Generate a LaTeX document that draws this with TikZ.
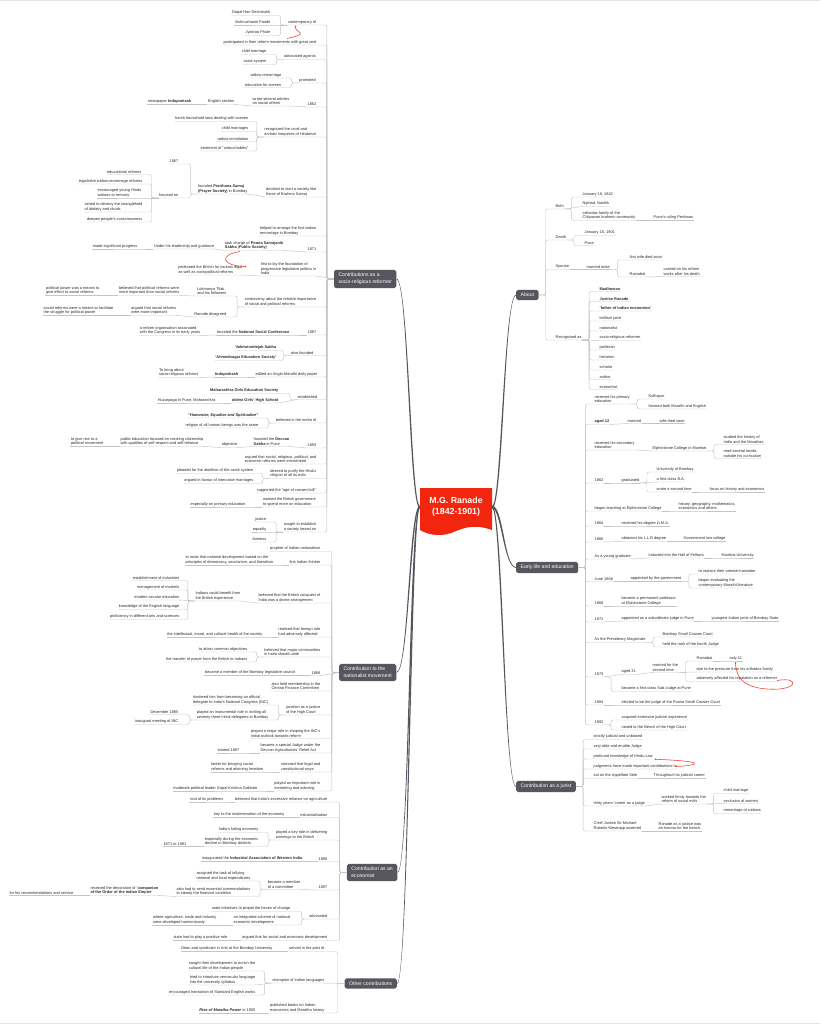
\documentclass[tikz,border=0pt]{standalone}
\usepackage{fontspec}
\setmainfont{Liberation Sans}
\usetikzlibrary{calc}
\definecolor{txtc}{HTML}{2B2B2B}
\definecolor{lnc}{HTML}{C4C4C4}
\definecolor{boxc}{HTML}{56565E}
\definecolor{redc}{HTML}{F2260F}
\definecolor{relc}{HTML}{EF3B2C}
\newcommand\fsm{\fontsize{3.9}{4.5}\selectfont}
\newcommand\fbx{\fontsize{5.1}{7}\selectfont}
% left side connectors
\newcommand\mlc[2]{\draw[ln] (#2.south west) -- (#2.south east) -| ($(#1.south west)+(-7,0)$) -- (#1.south west);}
\newcommand\mls[2]{\draw[ln] (#2.south west) -- (#2.south east) -- (#1.south west);}
\newcommand\mlb[2]{\draw[ln] (#2.south west) -- (#2.south east) -| ($(#1.west)+(-7,0)$) -- (#1.west);}
\newcommand\mlbs[2]{\draw[ln] (#2.south west) -- (#2.south east) -- (#1.west);}
% right side connectors
\newcommand\mrc[2]{\draw[ln] (#2.south east) -- (#2.south west) -| ($(#1.south east)+(7,0)$) -- (#1.south east);}
\newcommand\mrs[2]{\draw[ln] (#2.south east) -- (#2.south west) -- (#1.south east);}
\newcommand\mrb[2]{\draw[ln] (#2.south east) -- (#2.south west) -| ($(#1.east)+(7,0)$) -- (#1.east);}
% tapered main branches; #2 = -1 if box above centre, 1 if below
\newcommand\brL[2]{\fill[boxc]
  ($(#1.east)+(0,#2*0.4)$) .. controls ($(#1.east)+(12.3,#2*0.4)$) and ($(M.west)+(-8.8,#2*1.3)$) .. ($(M.west)+(0,#2*1.3)$)
  -- ($(M.west)+(0,-#2*1.3)$) .. controls ($(M.west)+(-11.2,-#2*1.3)$) and ($(#1.east)+(11.7,-#2*0.4)$) .. ($(#1.east)+(0,-#2*0.4)$) -- cycle;}
\newcommand\brR[2]{\fill[boxc]
  ($(#1.west)+(0,-#2*0.4)$) .. controls ($(#1.west)+(-11.7,-#2*0.4)$) and ($(M.east)+(11.2,-#2*1.3)$) .. ($(M.east)+(0,-#2*1.3)$)
  -- ($(M.east)+(0,#2*1.3)$) .. controls ($(M.east)+(8.8,#2*1.3)$) and ($(#1.west)+(-12.3,#2*0.4)$) .. ($(#1.west)+(0,#2*0.4)$) -- cycle;}
\begin{document}
\begin{tikzpicture}[x=1pt,y=-1pt,
  tl/.style={font=\fsm, text=txtc, inner xsep=0.5pt, inner ysep=0.9pt, align=left, anchor=south east},
  tr/.style={font=\fsm, text=txtc, inner xsep=0.5pt, inner ysep=0.9pt, align=left, anchor=south west},
  bx/.style={font=\fbx, text=white, fill=boxc, rounded corners=1.8pt, inner xsep=4.5pt, inner ysep=3.2pt, align=left},
  ln/.style={draw=lnc, line width=0.45pt, rounded corners=2pt},
  rel/.style={draw=relc, line width=0.55pt},
]
\useasboundingbox (0,0) rectangle (820,1024);
\fill[white] (0,0) rectangle (820,1024);
\draw[black!10, line width=1pt] (0,0.5) -- (820,0.5);
\draw[black!10, line width=1pt] (0,1023.5) -- (820,1023.5);

% central topic
\fill[redc] (420,488) -- (492,488) -- (492,530) .. controls (478,525) and (468,526) .. (456,531) .. controls (444,537) and (430,536) .. (420,530) -- cycle;
\node[minimum width=72pt, minimum height=40pt, inner sep=0pt, text=white, align=center,
  font=\fontsize{8.8}{10.6}\selectfont\bfseries] (M) at (456,507) {M.G. Ranade\\(1842-1901)};

% main branches
\node[bx, anchor=east] (B1) at (396.5,279) {Contributions as a\\socio-religious reformer};
\node[bx, anchor=east] (B2) at (396.5,672.5) {Contribution to the\\nationalist movement};
\node[bx, anchor=east] (B3) at (397.5,872.5) {Contribution as an\\economist};
\node[bx, anchor=east] (B4) at (397,983.5) {Other contributions};
\node[bx, anchor=west] (R1) at (516,295) {About};
\node[bx, anchor=west] (R2) at (516,567.5) {Early life and education};
\node[bx, anchor=west] (R3) at (516,786.5) {Contribution as a jurist};
\brL{B1}{-1} \brL{B2}{1} \brL{B3}{1} \brL{B4}{1}
\brR{R1}{-1} \brR{R2}{1} \brR{R3}{1}

% ---------- B1 ----------
\node[tl] (a1) at (317,25) {contemporary of};
\node[tl] (a1a) at (271,15.5) {Gopal Hari Deshmukh};
\node[tl] (a1b) at (271,25) {Vishnushastri Pandit};
\node[tl] (a1c) at (271,35.5) {Jyotirao Phule};
\node[tl] (a2) at (317,45) {participated in their reform movements with great zeal};
\node[tl] (a3) at (316.5,59.5) {advocated against};
\node[tl] (a3a) at (267,54.5) {child marriage};
\node[tl] (a3b) at (267,64.5) {caste system};
\node[tl] (a4) at (316.5,83) {promoted};
\node[tl] (a4a) at (282,78) {widow remarriage};
\node[tl] (a4b) at (282,87.5) {education for women};
\node[tl] (a5) at (317,107) {1862};
\node[tl] (a5a) at (290,106) {wrote several articles\\on social reform};
\node[tl] (a5b) at (235,104.5) {English section};
\node[tl] (a5c) at (192,104.5) {newspaper \textbf{Induprakash}};
\node[tl] (a6) at (317,137) {recognized the cruel and\\archaic inequities of Hinduism};
\node[tl] (a6a) at (249,121.5) {harsh household laws dealing with women};
\node[tl] (a6b) at (249,131.5) {child marriages};
\node[tl] (a6c) at (249,141.5) {widow immolation};
\node[tl] (a6d) at (249,151) {treatment of "untouchables"};
\node[tl] (a7) at (317,197) {decided to start a society like\\those of Brahmo Samaj};
\node[tl] (a7a) at (248,194) {founded \textbf{Prarthana Samaj}\\\textbf{(Prayer Society)} in Bombay};
\node[tl] (a7b) at (179,164) {1867};
\node[tl] (a7c) at (179,198) {focused on};
\node[tl] (a7c1) at (142,174.5) {educational reforms};
\node[tl] (a7c2) at (143,184) {legislative widow-remarriage reforms};
\node[tl] (a7c3) at (142,198) {encouraged young Hindu\\widows to remarry};
\node[tl] (a7c4) at (143,212) {aimed to destroy the stranglehold\\of idolatry and rituals};
\node[tl] (a7c5) at (143,222) {deepen people's consciousness};
\node[tl] (a8) at (317,236) {helped to arrange the first widow\\remarriage in Bombay};
\node[tl] (a9) at (317,252) {1871};
\node[tl] (a9a) at (284,250.5) {took charge of \textbf{Poona Sarvajanik}\\\textbf{Sabha} (\textbf{Public Society})};
\node[tl] (a9b) at (215,249) {Under his leadership and guidance};
\node[tl] (a9c) at (138,249) {made significant progress};
\node[tl] (a10) at (317,276) {first to lay the foundation of\\progressive legislative politics in\\India};
\node[tl] (a10a) at (243,275) {petitioned the British for various legal\\as well as sociopolitical reforms};
\node[tl] (a11) at (317,307) {controversy about the relative importance\\of social and political reforms};
\node[tl] (a11a) at (227,296) {Lokmanya Tilak\\and his followers};
\node[tl] (a11b) at (180,295.5) {believed that political reforms were\\more important than social reforms};
\node[tl] (a11c) at (100,295.5) {political power was a means to\\give effect to social reforms};
\node[tl] (a11d) at (227,317) {Ranade disagreed};
\node[tl] (a11e) at (177,315.5) {argued that social reforms\\were more important};
\node[tl] (a11f) at (114,315.5) {social reforms were a means to facilitate\\the struggle for political power};
\node[tl] (a12) at (317,335) {1887};
\node[tl] (a12a) at (290,335) {founded the \textbf{National Social Conference}};
\node[tl] (a12b) at (201,335.5) {a reform organisation associated\\with the Congress in its early years};
\node[tl] (a13) at (314,355.5) {also founded};
\node[tl] (a13a) at (277,350.5) {\textbf{Vaktrutvottejak Sabha}};
\node[tl] (a13b) at (277,360.5) {\textbf{'Ahmednagar Education Society'}};
\node[tl] (a14) at (318,377) {edited an Anglo-Marathi daily paper};
\node[tl] (a14a) at (239,377) {\textbf{Induprakash}};
\node[tl] (a14b) at (199,377.5) {To bring about\\socio-religious reforms};
\node[tl] (a15) at (318,399.5) {established};
\node[tl] (a15a) at (279,393.5) {\textbf{Maharashtra Girls Education Society}};
\node[tl] (a15b) at (279,403) {\textbf{oldest Girls' High School}};
\node[tl] (a15c) at (216,403) {Huzurpaga in Pune, Maharashtra};
\node[tl] (a16) at (317,423) {believed in the motto of};
\node[tl] (a16a) at (259,418) {\textbf{\textit{"Humanize, Equalize and Spiritualize"}}};
\node[tl] (a16b) at (259,428) {religion of all human beings was the same};
\node[tl] (a17) at (317,448) {1893};
\node[tl] (a17a) at (290,446.5) {founded the \textbf{Deccan}\\\textbf{Sabha} in Pune};
\node[tl] (a17b) at (238,447.5) {objective};
\node[tl] (a17c) at (204,446.5) {public education focused on creating citizenship\\with qualities of self-respect and self-reliance};
\node[tl] (a17d) at (104,446.5) {to give rise to a\\political movement};
\node[tl] (a18) at (317,464) {argued that social, religious, political, and\\economic reforms were interrelated};
\node[tl] (a19) at (316.5,478.5) {desired to purify the Hindu\\religion of all its evils};
\node[tl] (a19a) at (254,473.5) {pleaded for the abolition of the caste system};
\node[tl] (a19b) at (254,483.5) {argued in favour of intercaste marriages};
\node[tl] (a20) at (316.5,493) {supported the "age of consent bill"};
\node[tl] (a21) at (316.5,507) {wanted the British government\\to spend more on education};
\node[tl] (a21a) at (246,507) {especially on primary education};
\node[tl] (a22) at (317,532) {sought to establish\\a society based on};
\node[tl] (a22a) at (267,522) {justice};
\node[tl] (a22b) at (267,532) {equality};
\node[tl] (a22c) at (267,542) {fairness};

% ---------- B2 ----------
\node[tl] (b1) at (321,551.5) {prophet of Indian nationalism};
\node[tl] (b2) at (321,565) {first Indian thinker};
\node[tl] (b2a) at (274,565) {to insist that national development based on the\\principles of democracy, secularism, and liberalism};
\node[tl] (b3) at (321,603) {believed that the British conquest of\\India was a divine arrangement};
\node[tl] (b3a) at (241,601) {Indians could benefit from\\the British experience};
\node[tl] (b3b) at (180,580.5) {establishment of industries};
\node[tl] (b3c) at (180,590) {management of markets};
\node[tl] (b3d) at (180,600) {modern secular education};
\node[tl] (b3e) at (180,609.5) {knowledge of the English language};
\node[tl] (b3f) at (180,619.5) {proficiency in different arts and sciences};
\node[tl] (b4) at (321,637) {realised that foreign rule\\had adversely affected};
\node[tl] (b4a) at (263,637) {the intellectual, moral, and cultural health of the society};
\node[tl] (b5) at (321,657) {believed that major communities\\in India should unite};
\node[tl] (b5a) at (248,652) {to attain common objectives};
\node[tl] (b5b) at (248,662) {the transfer of power from the British to Indians};
\node[tl] (b6) at (321,675.5) {1888};
\node[tl] (b6a) at (296,675.5) {became a member of the Bombay legislative council};
\node[tl] (b7) at (321,691) {also held membership in the\\Central Finance Committee};
\node[tl] (b8) at (321,715) {position as a justice\\of the High Court};
\node[tl] (b8a) at (269,705) {hindered him from becoming an official\\delegate to India's National Congress (INC)};
\node[tl] (b8b) at (269,720) {played an instrumental role in inviting all\\seventy-three initial delegates to Bombay};
\node[tl] (b8c) at (179,714.5) {December 1885};
\node[tl] (b8d) at (179,724.5) {inaugural meeting of INC};
\node[tl] (b9) at (321,738.5) {played a major role in shaping the INC's\\initial outlook towards reform};
\node[tl] (b10) at (321,753) {became a special Judge under the\\Deccan Agriculturists' Relief Act};
\node[tl] (b10a) at (240,753) {started 1887};
\node[tl] (b11) at (321,772) {stressed that legal and\\constitutional ways};
\node[tl] (b11a) at (264,772) {better for bringing social\\reforms and attaining freedom};
\node[tl] (b12) at (321,791) {played an important role in\\mentoring and advising};
\node[tl] (b12a) at (258,791) {moderate political leader Gopal Krishna Gokhale};

% ---------- B3 ----------
\node[tl] (c1) at (328,802) {believed that India's excessive reliance on agriculture};
\node[tl] (c1a) at (224,802) {root of its problems};
\node[tl] (c2) at (328,817.5) {industrialisation};
\node[tl] (c2a) at (285,817.5) {key to the modernisation of the economy};
\node[tl] (c3) at (328,840) {played a key role in delivering\\warnings to the British};
\node[tl] (c3a) at (259,832.5) {India's failing economy};
\node[tl] (c3b) at (259,846.5) {especially during the economic\\decline in Bombay districts};
\node[tl] (c3c) at (187,846.5) {1871 to 1891};
\node[tl] (c4) at (328,861.5) {1890};
\node[tl] (c4a) at (303,861.5) {inaugurated the \textbf{Industrial Association of Western India}};
\node[tl] (c5) at (328,890) {1897};
\node[tl] (c5a) at (301,889.5) {became a member\\of a committee};
\node[tl] (c5b) at (251,881) {assigned the task of tallying\\national and local expenditures};
\node[tl] (c5c) at (251,896.5) {also had to send essential commendations\\to steady the financial condition};
\node[tl] (c5d) at (159,895.5) {received the decoration of '\textbf{companion}\\\textbf{of the Order of the Indian Empire}'};
\node[tl] (c5e) at (74,895.5) {for his recommendations and service};
\node[tl] (c6) at (328,919) {advocated};
\node[tl] (c6a) at (291,911.5) {state initiatives to propel the forces of change};
\node[tl] (c6b) at (291,925) {an integrated scheme of national\\economic development};
\node[tl] (c6c) at (217,925) {where agriculture, trade and industry\\were developed harmoniously};
\node[tl] (c7) at (328,940.5) {argued that for social and economic development};
\node[tl] (c7a) at (228,940.5) {state had to play a positive role};

% ---------- B4 ----------
\node[tl] (d1) at (325,951.5) {served in the post of};
\node[tl] (d1a) at (273,951.5) {Dean and syndicate in Arts at the Bombay University};
\node[tl] (d2) at (325,983) {champion of Indian languages};
\node[tl] (d2a) at (256,971) {sought their development to enrich the\\cultural life of the Indian people};
\node[tl] (d2b) at (256,985) {tried to introduce vernacular language\\into the university syllabus};
\node[tl] (d2c) at (256,995) {encouraged translation of Standard English works};
\node[tl] (d3) at (325,1013) {published books on Indian\\economics and Maratha history};
\node[tl] (d3a) at (256,1013) {\textbf{\textit{Rise of Maratha Power}} in 1900};

% ---------- R1 ----------
\node[tr] (e1) at (555,209) {Birth};
\node[tr] (e1a) at (582,197) {January 18, 1842};
\node[tr] (e1b) at (582,206.5) {Niphad, Nashik};
\node[tr] (e1c) at (582,220.5) {orthodox family of the\\Chitpavan brahmin community};
\node[tr] (e1d) at (653,220.5) {Pune's ruling Peshwas};
\node[tr] (e2) at (555,240) {Death};
\node[tr] (e2a) at (584,235.5) {January 16, 1901};
\node[tr] (e2b) at (584,245.5) {Pune};
\node[tr] (e3) at (555,269.5) {Spouse};
\node[tr] (e3a) at (586,269.5) {married twice};
\node[tr] (e3b) at (629,260) {first wife died soon};
\node[tr] (e3c) at (629,277) {Ramabai};
\node[tr] (e3d) at (663,276.5) {carried on his reform\\works after his death};
\node[tr] (e4) at (555,340) {Recognised as};
\node[tr] (e4a) at (599,291.5) {\textbf{Madhavrao}};
\node[tr] (e4b) at (599,301.5) {\textbf{Justice Ranade}};
\node[tr] (e4c) at (599,311) {\textbf{'father of Indian economics'}};
\node[tr] (e4d) at (599,321) {brilliant jurist};
\node[tr] (e4e) at (599,331) {nationalist};
\node[tr] (e4f) at (599,340.5) {socio-religious reformer};
\node[tr] (e4g) at (599,350) {politician};
\node[tr] (e4h) at (599,360) {historian};
\node[tr] (e4i) at (599,370) {scholar};
\node[tr] (e4j) at (599,379.5) {author};
\node[tr] (e4k) at (599,389.5) {economist};

% ---------- R2 ----------
\node[tr] (f1) at (594,404) {received his primary\\education};
\node[tr] (f1a) at (648,399) {Kolhapur};
\node[tr] (f1b) at (648,409) {learned both Marathi and English};
\node[tr] (f2) at (594,424.5) {\textbf{aged 12}};
\node[tr] (f2a) at (627,423.5) {married};
\node[tr] (f2b) at (659,423.5) {wife died soon};
\node[tr] (f3) at (594,450) {received his secondary\\education};
\node[tr] (f3a) at (652,451) {Elphinstone College in Mumbai};
\node[tr] (f3b) at (723,444.5) {studied the history of\\India and the Marathas};
\node[tr] (f3c) at (723,458.5) {read several books\\outside his curriculum};
\node[tr] (f4) at (594,483) {1862};
\node[tr] (f4a) at (621,483) {graduated};
\node[tr] (f4b) at (656,472) {University of Bombay};
\node[tr] (f4c) at (656,482) {a first-class B.A.};
\node[tr] (f4d) at (656,492) {wrote a second time};
\node[tr] (f4e) at (709,492) {focus on history and economics};
\node[tr] (f5) at (594,511) {began teaching at Elphinstone College};
\node[tr] (f5a) at (678,511) {history, geography, mathematics,\\economics and others};
\node[tr] (f6) at (594,526) {1864};
\node[tr] (f6a) at (621,526) {received his degree in M.A.};
\node[tr] (f7) at (594,542) {1866};
\node[tr] (f7a) at (621,541.5) {obtained his L.L.B degree};
\node[tr] (f7b) at (683,541.5) {Government law college};
\node[tr] (f8) at (594,559) {As a young graduate};
\node[tr] (f8a) at (648,558) {inducted into the Hall of Fellows};
\node[tr] (f8b) at (721,558) {Mumbai University};
\node[tr] (f9) at (594,581.5) {June 1866};
\node[tr] (f9a) at (630,581.5) {appointed by the government};
\node[tr] (f9b) at (698,574) {to replace their oriental translator};
\node[tr] (f9c) at (698,588) {began evaluating the\\contemporary Marathi literature};
\node[tr] (f10) at (594,606) {1868};
\node[tr] (f10a) at (621,606) {became a permanent professor\\at Elphinstone College};
\node[tr] (f11) at (594,622) {1871};
\node[tr] (f11a) at (621,621) {appointed as a subordinate judge in Pune};
\node[tr] (f11b) at (711,621) {youngest Indian jurist of Bombay State};
\node[tr] (f12) at (594,642.5) {As the Presidency Magistrate};
\node[tr] (f12a) at (662,637) {Bombay Small Causes Court};
\node[tr] (f12b) at (662,647) {held the rank of the fourth Judge};
\node[tr] (f13) at (594,677) {1873};
\node[tr] (f13a) at (621,674.5) {aged 31};
\node[tr] (f13b) at (652,672.5) {married for the\\second time};
\node[tr] (f13c) at (696,661) {Ramabai};
\node[tr] (f13d) at (729,661) {only 11};
\node[tr] (f13e) at (696,672) {due to the pressure from his orthodox family};
\node[tr] (f13f) at (696,681.5) {adversely affected his reputation as a reformer};
\node[tr] (f13g) at (621,691.5) {became a first-class Sub-Judge at Pune};
\node[tr] (f14) at (594,705) {1884};
\node[tr] (f14a) at (621,705) {elected to be the judge of the Poona Small Causes Court};
\node[tr] (f15) at (594,725) {1892};
\node[tr] (f15a) at (621,720) {acquired extensive judicial experience};
\node[tr] (f15b) at (621,730) {raised to the Bench of the High Court};

% ---------- R3 ----------
\node[tr] (g1) at (593,739.5) {strictly judicial and unbiased};
\node[tr] (g2) at (593,749) {very able and erudite Judge};
\node[tr] (g3) at (593,759) {profound knowledge of Hindu Law};
\node[tr] (g4) at (593,769) {judgments have made important contributions to};
\node[tr] (g5) at (593,778.5) {sat on the Appellate Side};
\node[tr] (g5a) at (653,778.5) {Throughout his judicial career};
\node[tr] (g6) at (593,806) {thirty years' career as a judge};
\node[tr] (g6a) at (661,804) {worked firmly towards the\\reform of social evils};
\node[tr] (g6b) at (723,793.5) {child marriage};
\node[tr] (g6c) at (723,803.5) {seclusion of women};
\node[tr] (g6d) at (723,813.5) {remarriage of widows};
\node[tr] (g7) at (593,831) {Chief Justice Sir Michael\\Roberts Westropp asserted};
\node[tr] (g7a) at (658,831) {Ranade as a justice was\\an honour for the bench.};

% ---------- connectors B1 ----------
\mlb{B1}{a1} \mlb{B1}{a2} \mlb{B1}{a3} \mlb{B1}{a4} \mlb{B1}{a5} \mlb{B1}{a6} \mlb{B1}{a7}
\mlb{B1}{a8} \mlb{B1}{a9} \mlbs{B1}{a10} \mlb{B1}{a11} \mlb{B1}{a12} \mlb{B1}{a13} \mlb{B1}{a14}
\mlb{B1}{a15} \mlb{B1}{a16} \mlb{B1}{a17} \mlb{B1}{a18} \mlb{B1}{a19} \mlb{B1}{a20} \mlb{B1}{a21} \mlb{B1}{a22}
\mlc{a1}{a1a} \mls{a1}{a1b} \mlc{a1}{a1c}
\mlc{a3}{a3a} \mlc{a3}{a3b}
\mlc{a4}{a4a} \mlc{a4}{a4b}
\mls{a5}{a5a} \mls{a5a}{a5b} \mls{a5b}{a5c}
\mlc{a6}{a6a} \mlc{a6}{a6b} \mlc{a6}{a6c} \mlc{a6}{a6d}
\mls{a7}{a7a} \mlc{a7a}{a7b} \mlc{a7a}{a7c}
\mlc{a7c}{a7c1} \mlc{a7c}{a7c2} \mls{a7c}{a7c3} \mlc{a7c}{a7c4} \mlc{a7c}{a7c5}
\mls{a9}{a9a} \mls{a9a}{a9b} \mls{a9b}{a9c}
\mls{a10}{a10a}
\mlc{a11}{a11a} \mlc{a11}{a11d} \mls{a11a}{a11b} \mls{a11b}{a11c} \mls{a11d}{a11e} \mls{a11e}{a11f}
\mls{a12}{a12a} \mls{a12a}{a12b}
\mlc{a13}{a13a} \mlc{a13}{a13b}
\mls{a14}{a14a} \mls{a14a}{a14b}
\mlc{a15}{a15a} \mls{a15}{a15b} \mls{a15b}{a15c}
\mlc{a16}{a16a} \mlc{a16}{a16b}
\mls{a17}{a17a} \mls{a17a}{a17b} \mls{a17b}{a17c} \mls{a17c}{a17d}
\mlc{a19}{a19a} \mlc{a19}{a19b}
\mls{a21}{a21a}
\mlc{a22}{a22a} \mls{a22}{a22b} \mlc{a22}{a22c}
% ---------- connectors B2 ----------
\mlb{B2}{b1} \mlb{B2}{b2} \mlb{B2}{b3} \mlb{B2}{b4} \mlb{B2}{b5} \mlbs{B2}{b6}
\mlb{B2}{b7} \mlb{B2}{b8} \mlb{B2}{b9} \mlb{B2}{b10} \mlb{B2}{b11} \mlb{B2}{b12}
\mls{b2}{b2a} \mls{b3}{b3a}
\mlc{b3a}{b3b} \mlc{b3a}{b3c} \mls{b3a}{b3d} \mlc{b3a}{b3e} \mlc{b3a}{b3f}
\mls{b4}{b4a} \mlc{b5}{b5a} \mlc{b5}{b5b} \mls{b6}{b6a}
\mlc{b8}{b8a} \mlc{b8}{b8b} \mlc{b8b}{b8c} \mlc{b8b}{b8d}
\mls{b10}{b10a} \mls{b11}{b11a} \mls{b12}{b12a}
% ---------- connectors B3 ----------
\mlb{B3}{c1} \mlb{B3}{c2} \mlb{B3}{c3} \mlb{B3}{c4} \mlb{B3}{c5} \mlb{B3}{c6} \mlb{B3}{c7}
\mls{c1}{c1a} \mls{c2}{c2a} \mlc{c3}{c3a} \mlc{c3}{c3b} \mls{c3b}{c3c}
\mls{c4}{c4a} \mls{c5}{c5a} \mlc{c5a}{c5b} \mlc{c5a}{c5c} \mls{c5c}{c5d} \mls{c5d}{c5e}
\mlc{c6}{c6a} \mlc{c6}{c6b} \mls{c6b}{c6c} \mls{c7}{c7a}
% ---------- connectors B4 ----------
\mlb{B4}{d1} \mlbs{B4}{d2} \mlb{B4}{d3}
\mls{d1}{d1a} \mlc{d2}{d2a} \mls{d2}{d2b} \mlc{d2}{d2c} \mls{d3}{d3a}
% ---------- connectors R1 ----------
\mrb{R1}{e1} \mrb{R1}{e2} \mrb{R1}{e3} \mrb{R1}{e4}
\mrc{e1}{e1a} \mrs{e1}{e1b} \mrc{e1}{e1c} \mrs{e1c}{e1d}
\mrc{e2}{e2a} \mrc{e2}{e2b}
\mrs{e3}{e3a} \mrc{e3a}{e3b} \mrc{e3a}{e3c} \mrs{e3c}{e3d}
\mrc{e4}{e4a} \mrc{e4}{e4b} \mrc{e4}{e4c} \mrc{e4}{e4d} \mrc{e4}{e4e} \mrs{e4}{e4f}
\mrc{e4}{e4g} \mrc{e4}{e4h} \mrc{e4}{e4i} \mrc{e4}{e4j} \mrc{e4}{e4k}
% ---------- connectors R2 ----------
\mrb{R2}{f1} \mrb{R2}{f2} \mrb{R2}{f3} \mrb{R2}{f4} \mrb{R2}{f5} \mrb{R2}{f6} \mrb{R2}{f7} \mrb{R2}{f8}
\mrb{R2}{f9} \mrb{R2}{f10} \mrb{R2}{f11} \mrb{R2}{f12} \mrb{R2}{f13} \mrb{R2}{f14} \mrb{R2}{f15}
\mrc{f1}{f1a} \mrc{f1}{f1b}
\mrs{f2}{f2a} \mrs{f2a}{f2b}
\mrs{f3}{f3a} \mrc{f3a}{f3b} \mrc{f3a}{f3c}
\mrs{f4}{f4a} \mrc{f4a}{f4b} \mrs{f4a}{f4c} \mrc{f4a}{f4d} \mrs{f4d}{f4e}
\mrs{f5}{f5a} \mrs{f6}{f6a} \mrs{f7}{f7a} \mrs{f7a}{f7b} \mrs{f8}{f8a} \mrs{f8a}{f8b}
\mrs{f9}{f9a} \mrc{f9a}{f9b} \mrc{f9a}{f9c}
\mrs{f10}{f10a} \mrs{f11}{f11a} \mrs{f11a}{f11b}
\mrc{f12}{f12a} \mrc{f12}{f12b}
\mrs{f13}{f13a} \mrc{f13}{f13g} \mrs{f13a}{f13b}
\mrc{f13b}{f13c} \mrs{f13b}{f13e} \mrc{f13b}{f13f} \mrs{f13c}{f13d}
\mrs{f14}{f14a} \mrc{f15}{f15a} \mrc{f15}{f15b}
% ---------- connectors R3 ----------
\mrb{R3}{g1} \mrb{R3}{g2} \mrb{R3}{g3} \mrb{R3}{g4} \mrb{R3}{g5} \mrb{R3}{g6} \mrb{R3}{g7}
\mrs{g5}{g5a} \mrs{g6}{g6a} \mrc{g6a}{g6b} \mrs{g6a}{g6c} \mrc{g6a}{g6d} \mrs{g7}{g7a}

% ---------- relationship lines ----------
\coordinate (r1a) at (287,38.5); \coordinate (r1b) at (295.5,26.5);
\draw[rel] (r1a) .. controls (312,33) and (294,33) .. (r1b); \fill[relc] (r1b) circle (0.9);
\coordinate (r2a) at (240,251.5); \coordinate (r2b) at (245.5,266.5);
\draw[rel] (r2a) .. controls (218,255) and (222,266) .. (r2b); \fill[relc] (r2b) circle (0.9);
\coordinate (r3a) at (777,680.5); \coordinate (r3m) at (762,688.5); \coordinate (r3b) at (735.5,663);
\draw[rel] (r3a) .. controls (802,676) and (798,693) .. (r3m) .. controls (745,686) and (736,679) .. (r3b);
\fill[relc] (r3b) circle (0.9);
\coordinate (r4a) at (676,766.5); \coordinate (r4b) at (655.5,759.3);
\draw[rel] (r4a) .. controls (704,765) and (703,761) .. (r4b); \fill[relc] (r4b) circle (0.9);
\end{tikzpicture}
\end{document}
